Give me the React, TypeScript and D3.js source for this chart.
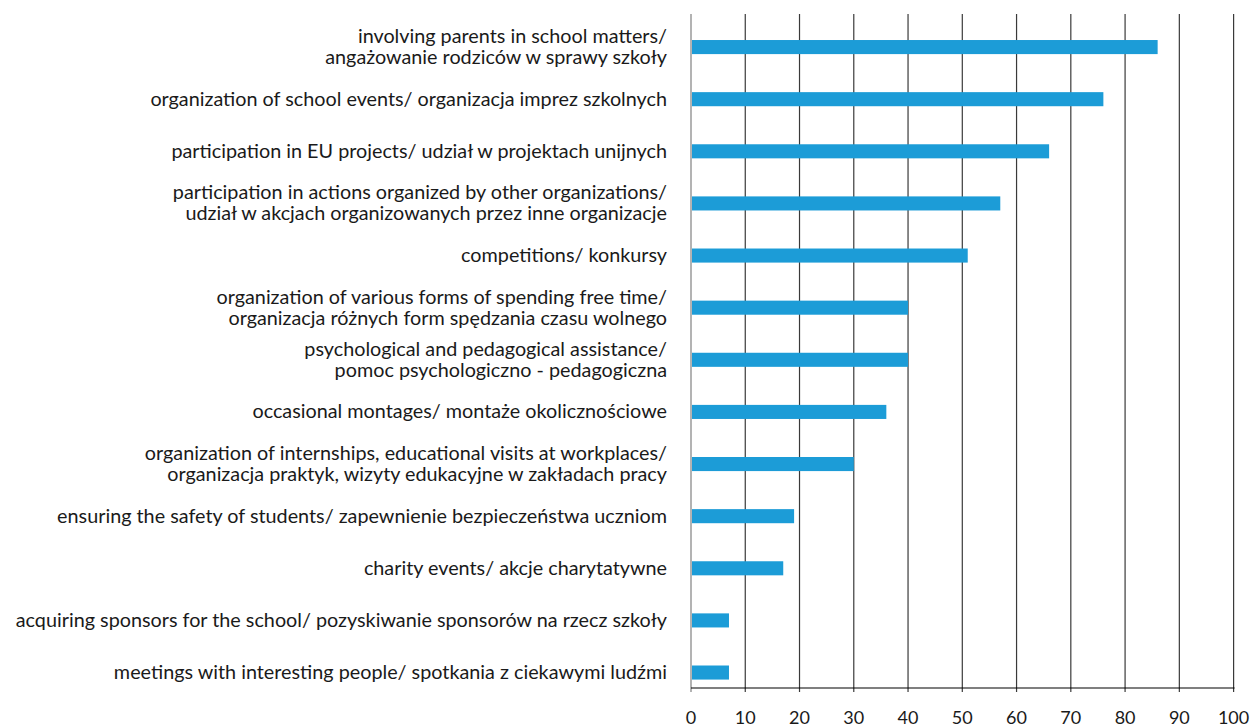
import React from "react";
import * as d3 from "d3";

const categories: string[][] = [
  ["involving parents in school matters/", "angażowanie rodziców w sprawy szkoły"],
  ["organization of school events/ organizacja imprez szkolnych"],
  ["participation in EU projects/ udział w projektach unijnych"],
  ["participation in actions organized by other organizations/", "udział w akcjach organizowanych przez inne organizacje"],
  ["competitions/ konkursy"],
  ["organization of various forms of spending free time/", "organizacja różnych form spędzania czasu wolnego"],
  ["psychological and pedagogical assistance/", "pomoc psychologiczno - pedagogiczna"],
  ["occasional montages/ montaże okolicznościowe"],
  ["organization of internships, educational visits at workplaces/", "organizacja praktyk, wizyty edukacyjne w zakładach pracy"],
  ["ensuring the safety of students/ zapewnienie bezpieczeństwa uczniom"],
  ["charity events/ akcje charytatywne"],
  ["acquiring sponsors for the school/ pozyskiwanie sponsorów na rzecz szkoły"],
  ["meetings with interesting people/ spotkania z ciekawymi ludźmi"],
];
const values: number[] = [86, 76, 66, 57, 51, 40, 40, 36, 30, 19, 17, 7, 7];
const ticks: number[] = [0, 10, 20, 30, 40, 50, 60, 70, 80, 90, 100];

const W = 1252;
const H = 727;
const FONT = "Lato, 'Open Sans', sans-serif";

export default function App() {
  const x = d3.scaleLinear().domain([0, 100]).range([691, 1233.6]);
  const idx = categories.map((_, i) => String(i));
  const y = d3
    .scaleBand<string>()
    .domain(idx)
    .range([21, 698.6])
    .paddingInner(0.73)
    .paddingOuter(0.365);
  const axisY = 688;
  const gridTop = 14;
  return (
    <svg
      width={W}
      height={H}
      style={{ position: "absolute", left: 0, top: 0, background: "#fff" }}
      fontFamily={FONT}
    >
      {ticks.map((t) => (
        <line
          key={"g" + t}
          x1={x(t)}
          x2={x(t)}
          y1={gridTop}
          y2={axisY + 4}
          stroke={t === 0 ? "#808080" : "#3a3a3a"}
          strokeWidth={1.2}
        />
      ))}
      <line x1={x(0)} x2={x(100) + 1} y1={axisY} y2={axisY} stroke="#000" strokeWidth={1.2} />
      {values.map((v, i) => {
        const bw = y.bandwidth();
        const yy = y(String(i))!;
        return (
          <rect key={"b" + i} x={x(0) + 1} y={yy} width={x(v) - x(0) - 1} height={bw} fill="#1C9CD7" />
        );
      })}
      {categories.map((lines, i) => {
        const cy = y(String(i))! + y.bandwidth() / 2 - 1.5;
        const lh = 21;
        const start = cy - ((lines.length - 1) * lh) / 2;
        return (
          <text key={"l" + i} textAnchor="end" fontSize={19.8} fill="#1a1a1a">
            {lines.map((ln, j) => (
              <tspan key={j} x={667} y={start + j * lh} dominantBaseline="central">
                {ln}
              </tspan>
            ))}
          </text>
        );
      })}
      {ticks.map((t) => (
        <text
          key={"t" + t}
          x={x(t)}
          y={717}
          textAnchor="middle"
          dominantBaseline="central"
          fontSize={18}
          fill="#1a1a1a"
        >
          {t}
        </text>
      ))}
    </svg>
  );
}
